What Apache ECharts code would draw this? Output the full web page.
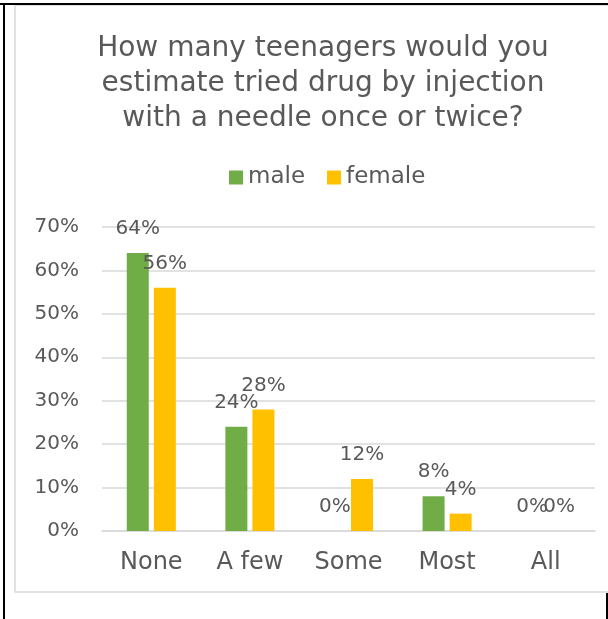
<!DOCTYPE html>
<html><head><meta charset="utf-8">
<script src="https://cdn.jsdelivr.net/npm/echarts@6/dist/echarts.min.js"></script>
<style>html,body{margin:0;padding:0;background:#fff}#c{width:608px;height:619px}</style>
</head><body><div id="c"></div>
<script>
const categories = ['None', 'A few', 'Some', 'Most', 'All'];
const male = [64, 24, 0, 8, 0];
const female = [56, 28, 12, 4, 0];
const yTicks = [0, 10, 20, 30, 40, 50, 60, 70];
const titleText = 'How many teenagers would you\nestimate tried drug by injection\nwith a needle once or twice?';

const FONT = 'DejaVu Sans';
const TXT = '#595959';
const chart = echarts.init(document.getElementById('c'));
chart.setOption({
  animation: false,
  backgroundColor: '#fff',
  textStyle: { fontFamily: FONT },
  graphic: [
    { type: 'rect', shape: { x: 15, y: 5, width: 620, height: 587 }, style: { fill: 'none', stroke: '#d9d9d9', lineWidth: 1.5 }, z: 0 },
    { type: 'line', shape: { x1: 0, y1: 4, x2: 608, y2: 4 }, style: { stroke: '#000', lineWidth: 2 } },
    { type: 'line', shape: { x1: 4, y1: 4, x2: 4, y2: 619 }, style: { stroke: '#000', lineWidth: 2 } },
    { type: 'line', shape: { x1: 607, y1: 593, x2: 607, y2: 619 }, style: { stroke: '#000', lineWidth: 2 } }
  ],
  title: {
    text: titleText,
    left: 318, textAlign: 'center', top: 26,
    textStyle: { fontFamily: FONT, fontWeight: 'normal', fontSize: 28, color: TXT, lineHeight: 35 }
  },
  legend: {
    top: 161, left: 224,
    itemWidth: 14, itemHeight: 14, itemGap: 22,
    icon: 'rect',
    textStyle: { fontFamily: FONT, fontSize: 23, color: TXT }
  },
  grid: { left: 102, right: 13, top: 227, bottom: 88 },
  xAxis: {
    type: 'category', data: categories,
    axisLine: { lineStyle: { color: '#d9d9d9', width: 1.5 } },
    axisTick: { show: false },
    axisLabel: { fontFamily: FONT, fontSize: 24, color: TXT, margin: 20 }
  },
  yAxis: {
    type: 'value', min: yTicks[0], max: yTicks[yTicks.length - 1], interval: 10,
    axisLine: { show: false }, axisTick: { show: false },
    splitLine: { lineStyle: { color: '#d9d9d9', width: 1.5 } },
    axisLabel: { fontFamily: FONT, fontSize: 20, color: TXT, margin: 23, formatter: '{value}%' }
  },
  series: [
    { name: 'male', type: 'bar', data: male, barWidth: 22, barGap: '23%', itemStyle: { color: '#70ad47' },
      label: { show: true, position: 'top', distance: 14, formatter: '{c}%', fontFamily: FONT, fontSize: 20, color: TXT } },
    { name: 'female', type: 'bar', data: female, barWidth: 22, itemStyle: { color: '#ffc000' },
      label: { show: true, position: 'top', distance: 14, formatter: '{c}%', fontFamily: FONT, fontSize: 20, color: TXT } }
  ]
});
</script></body></html>
